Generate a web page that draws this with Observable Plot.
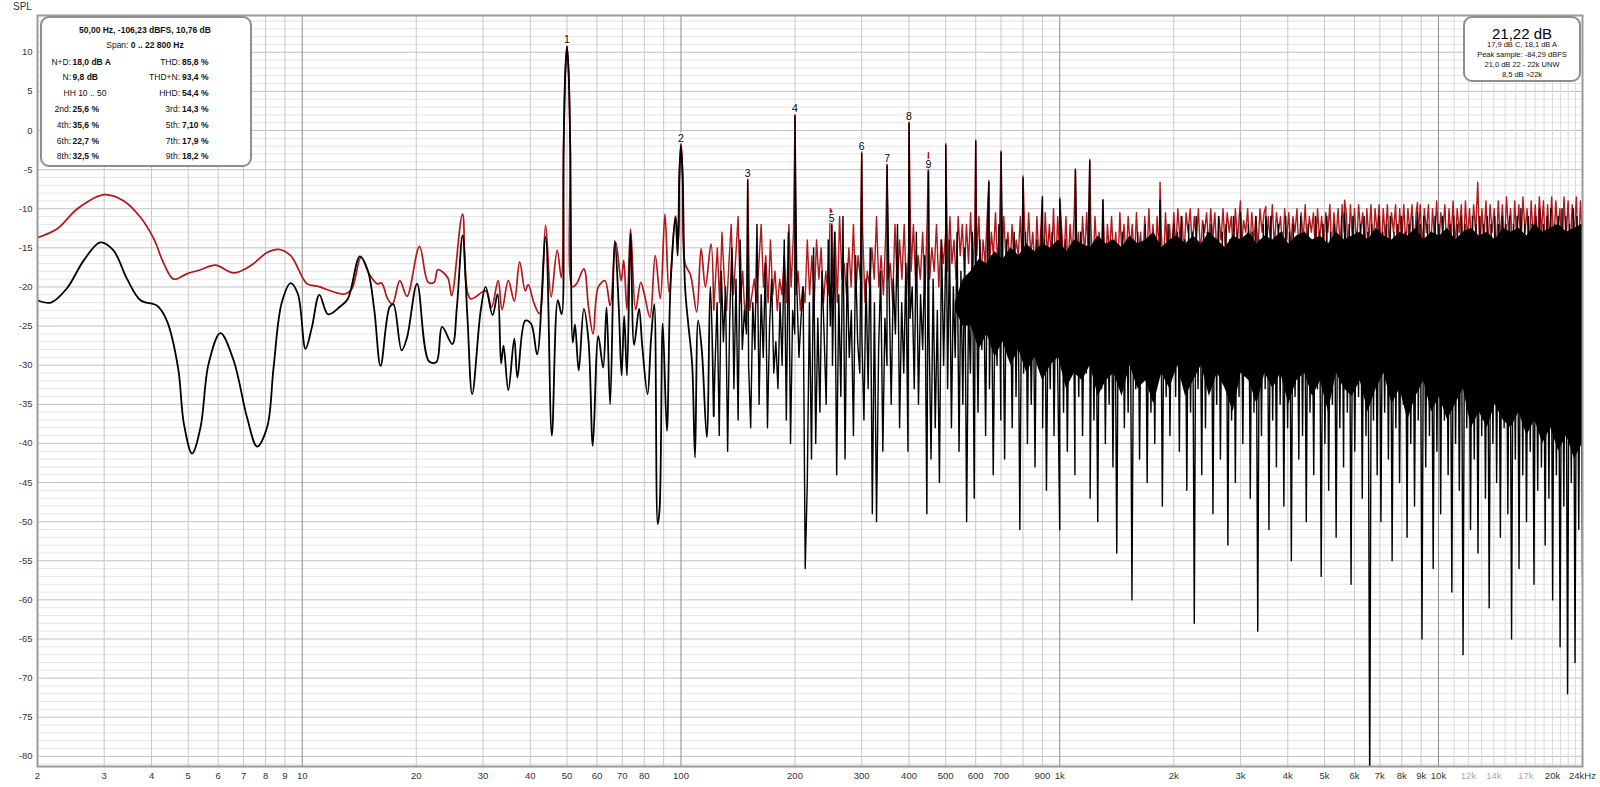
<!DOCTYPE html>
<html><head><meta charset="utf-8">
<script src="https://cdn.jsdelivr.net/npm/d3@7"></script>
<script src="https://cdn.jsdelivr.net/npm/@observablehq/plot@0.6"></script>
<style>
html,body{margin:0;padding:0;background:#fff;}
#wrap{position:relative;width:1600px;height:787px;font-family:"Liberation Sans",Arial,sans-serif;overflow:hidden;}
#wrap svg{position:absolute;left:0;top:0;}
.box{position:absolute;background:#fff;border:2px solid #8e8e8e;border-radius:9px;box-sizing:border-box;}
.t{position:absolute;white-space:nowrap;font-size:8.5px;color:#111;line-height:1;transform:translateY(-50%);}
.r{text-align:right;}
.c{text-align:center;}
</style></head><body><div id="wrap"></div>
<script>
// ---------- DATA ----------
// Low-frequency part (smooth), [Hz, dB]
const blackLow = [[2,-21.7],[2.17,-22.0],[2.39,-20.2],[2.65,-16.6],[2.93,-14.3],[3.17,-15.3],[3.45,-19.0],[3.74,-21.7],[4.14,-22.4],[4.39,-24.3],[4.7,-30.3],[4.87,-37.5],[5.12,-41.3],[5.39,-37.9],[5.66,-29.8],[6.08,-25.9],[6.59,-29.4],[7.15,-36.7],[7.6,-40.4],[8.08,-37.9],[8.4,-30.3],[8.83,-22.0],[9.32,-19.5],[9.74,-20.9],[10.2,-27.9],[10.6,-25.2],[11.1,-21.0],[11.7,-23.5],[12.6,-22.5],[13.2,-21.5],[14.2,-16.1],[14.9,-17.9],[15.5,-23.0],[16.1,-30.1],[17.0,-22.6],[17.4,-22.2],[18.3,-28.1],[18.9,-26.5],[20.1,-19.6],[21.6,-29.5],[22.6,-29.6],[23.4,-25.1],[24.9,-27.3],[25.6,-22.6],[26.5,-13.4],[27.3,-23.9],[28.1,-33.7],[29.6,-23.0],[30.5,-20.0],[31.8,-23.6],[32.8,-20.9],[33.5,-29.8],[34,-27.5],[35,-33.2],[36.3,-26.6],[37,-31.6],[38.8,-24.3],[40.2,-24.7],[41.7,-28.6],[43.9,-13.6],[45.6,-39.0],[47.3,-21.7],[48.4,-23.5],[49.0,-2],[49.5,7.5],[50,10.76],[50.5,7.5],[51.0,-2],[51.8,-27.1],[52.5,-24.8],[53.7,-30.7],[55.4,-22.8],[57,-26.9],[58.5,-40.3],[60.5,-26.3],[62.3,-30.3],[63.6,-22.6],[65,-35.0],[66.9,-14.1],[68.5,-22.6],[69.7,-31.3],[70.8,-23.7],[72,-31.3],[73.6,-13.2],[75.2,-27.4],[77.5,-22.8],[79,-27.5],[81.6,-33.7],[83.3,-26.9],[85,-22.2],[86.8,-50.3],[87.8,-48.4],[89.5,-24.7],[91.8,-38.4],[93.8,-20.0],[96.7,-11.1],[98,-16],[99,-6],[100,-1.9],[101,-6],[102.5,-20],[104.5,-24.7],[107,-29.8],[108.9,-41.8],[111,-24.3],[113.5,-28.1],[117,-39.2],[119.5,-20.0],[122,-36.5]];
const redLow = [[2,-13.7],[2.25,-12.6],[2.55,-10.0],[3.0,-8.2],[3.38,-9.0],[3.74,-11.1],[4.06,-13.9],[4.31,-17.0],[4.58,-19.0],[4.97,-18.3],[5.39,-17.8],[5.9,-17.2],[6.59,-18.2],[7.3,-17.3],[8.08,-15.6],[8.67,-15.2],[9.32,-16.0],[10.3,-19.6],[10.96,-19.9],[12.9,-20.9],[13.5,-20.3],[14.3,-16.2],[15.0,-18.3],[15.8,-19.6],[16.2,-19.5],[16.8,-21.5],[17.3,-22.2],[18.1,-19.2],[18.9,-21.2],[20.4,-14.8],[21.5,-19.4],[22.3,-19.4],[22.8,-17.8],[24.2,-18.8],[24.8,-21.1],[26.5,-10.7],[27.8,-21.5],[30.5,-20.5],[31.6,-22.6],[32.9,-19.2],[33.7,-22.9],[35.0,-19.2],[36.3,-21.8],[37.5,-16.8],[38.8,-20.5],[39.5,-19.7],[41,-22.2],[42.3,-23.4],[43.9,-12.1],[45.4,-21.3],[47.1,-15.3],[48.3,-18.8],[49.0,-2],[49.5,7.5],[50,10.76],[50.5,7.5],[51.0,-2],[51.7,-20.0],[53,-19.6],[55.4,-17.7],[57,-22.6],[58.6,-26.0],[60.5,-20.0],[63,-19.2],[65,-22.4],[67.3,-14.3],[69.5,-19.2],[70.6,-16.6],[72,-22.9],[73.6,-12.6],[75.9,-22.9],[78.3,-19.4],[80,-20.9],[82.8,-23.9],[85.5,-16.0],[88.2,-21.5],[90.7,-10.7],[93,-20.7],[96.7,-10.9],[98.5,-14],[99,-5.5],[100,-1.5],[101,-5.5],[102.5,-17],[106,-18.5],[110,-23.2],[113,-15.1],[116,-20.0],[120,-14.5],[122,-22.9]];

// Dense FFT part, values read left to right in three frequency bands
const bandA_Hz = [123, 500];
const blackBandA = [-30,-22,-39,-18,-27,-20,-41,-24,-15,-33,-19,-37,-14,-28,-23,-26,-30,-38,-22,-28,-12,-35,-21,-29,-17,-38,-25,-19,-31,-27,-33,-22,-30,-14,-37,-13,-40,-23,-26,-20,-29,-24,-20,-56,-45,-22,-42,-15,-40,-24,-36,-18,-26,-35,-14,-25,-30,-13,-44,-21,-34,-11,-42,-17,-29,-23,-39,-16,-27,-31,-26,-37,-19,-33,-15,-49,-22,-50,-28,-18,-41,-24,-30,-20,-35,-19,-26,-12,-38,-22,-31,-17,-41,-24,-20,-33,-13,-35,-21,-28,-16,-49,-25,-42,-19,-38,-23,-45,-14,-30];
const redBandA = [-20,-15,-22,-13,-19,-23,-17,-12,-21,-16,-11,-22,-18,-24,-20,-23,-21,-19,-22,-17,-12,-20,-16,-22,-14,-21,-18,-23,-19,-21,-16,-22,-12,-20,-13,-21,-18,-23,-20,-22,-14,-21,-16,-22,-14,-19,-15,-22,-18,-21,-10,-20,-13,-22,-11,-19,-17,-21,-15,-20,-12,-21,-16,-19,-13,-22,-18,-20,-15,-19,-11,-20,-16,-21,-13,-19,-17,-22,-12,-20,-14,-19,-12,-21,-15,-18,-12,-20,-16,-19,-13,-21,-11,-19,-15,-18,-12,-20,-14,-17];
const bandB_Hz = [500, 2000];
const blackBandB = [-16,-33,-14,-38,-20,-29,-13,-41,-18,-35,-15,-50,-22,-31,-13,-47,-17,-36,-14,-28,-19,-39,-13,-33,-16,-44,-21,-30,-12,-37,-17,-42,-14,-29,-20,-38,-13,-34,-16,-51,-18,-31,-13,-40,-15,-35,-19,-43,-14,-30,-16,-38,-14,-46,-20,-33,-13,-39,-17,-32,-51,-15,-36,-14,-41,-18,-30,-15,-44,-16,-34,-13,-39,-19,-31,-14,-47,-15,-37,-17,-50,-14,-33,-13,-40,-18,-35,-14,-43,-16,-54,-15,-32,-13,-38,-19,-36,-14,-60,-17,-33,-13,-42,-16,-30,-12,-45,-18,-36,-14,-40,-15,-31,-13,-48,-17,-34,-12,-39,-16];
const redBandB = [-13,-18,-11,-17,-14,-19,-11,-16,-12,-18,-12,-17,-10.5,-18,-13,-16,-11,-19,-14,-17,-11,-18,-13,-16,-10.5,-17,-12,-19,-11,-16,-13,-18,-12,-17,-14,-16,-11,-18,-12,-17,-10.5,-16,-13,-18,-11,-17,-12,-19,-10.5,-16,-12,-17,-10,-18,-11,-16,-13,-17,-11,-18,-12,-16,-10.5,-17,-13,-18,-11,-16,-10.5,-17,-12,-18,-11,-16,-13,-17,-10.5,-19,-12,-16,-11,-17,-13,-18,-10.5,-16,-12,-17,-11,-15,-12,-17,-10.5,-16,-13,-18,-11,-17,-10,-16,-12,-17,-11,-16,-13,-18,-10.5,-16,-12,-17];
const bandC_Hz = [2000, 24000];
const blackBandC = [-12,-34,-13,-41,-11,-30,-14,-46,-12,-36,-13,-63,-11,-33,-15,-44,-12,-38,-13,-31,-12,-49,-14,-35,-11,-42,-13,-32,-12,-53,-14,-37,-11,-45,-13,-34,-12,-40,-15,-30,-12,-47,-13,-36,-11,-64,-14,-39,-12,-33,-13,-51,-11,-37,-14,-43,-12,-35,-13,-48,-11,-38,-13,-55,-12,-34,-14,-42,-11,-39,-13,-50,-12,-36,-14,-44,-11,-33,-13,-57,-12,-40,-11,-46,-13,-35,-12,-52,-14,-38,-11,-43,-13,-36,-12,-58,-11,-41,-13,-34,-12,-47,-11,-39,-13,-85,-12,-37,-14,-44,-11,-50,-13,-36,-12,-42,-11,-55,-13,-38,-12,-45,-11,-35,-13,-52,-12,-40,-11,-48,-13,-37,-12,-65,-11,-43,-12,-39,-13,-56,-11,-41,-12,-49,-11,-37,-13,-44,-12,-59,-11,-40,-12,-46,-11,-67,-12,-38,-13,-51,-11,-42,-12,-54,-11,-39,-12,-47,-11,-61,-12,-40,-11,-45,-12,-52,-11,-38,-12,-49,-11,-65,-12,-42,-11,-56,-10,-44,-12,-50,-11,-41,-12,-58,-11,-46,-10,-43,-12,-53,-11,-47,-10,-60,-12,-44,-11,-66,-10,-48,-11,-72,-12,-45,-10,-68,-11,-51,-12,-57];
const redBandC = [-10.5,-15,-10,-14,-11,-16,-10.5,-13,-10,-15,-11,-14,-10,-16,-11.5,-13,-10.5,-15,-10,-14,-10.5,-16,-11,-14,-10,-15,-10.5,-13,-11,-16,-10,-14,-10.5,-15,-11.5,-13,-10,-16,-10.5,-14,-11,-15,-10,-13,-10.5,-16,-11,-14,-9.5,-15,-10.5,-13,-11,-16,-10,-14,-10.5,-15,-11,-13,-10,-16,-10.5,-14,-9.5,-15,-11,-13,-10.5,-16,-10,-14,-11,-15,-10.5,-13,-9.5,-16,-10.5,-14,-10,-15,-9.5,-13,-10.5,-16,-9.5,-14,-10,-15,-9.5,-13,-10.5,-16,-10,-14,-9.5,-15,-10,-13,-9.5,-16,-10,-14,-9.5,-15,-10.5,-13,-9.5,-16,-10,-14,-9.5,-15,-10,-13,-9.5,-16,-10.5,-14,-9.5,-15,-10,-13,-9.5,-16,-10,-14,-9,-15,-10.5,-13,-9.5,-16,-10,-14,-9,-15,-10,-13,-9.5,-16,-9,-14,-10,-15,-9.5,-13,-6.6,-16,-10,-14,-9,-15,-9.5,-13,-10,-16,-9,-14,-9.5,-15,-8.5,-13,-10,-16,-9,-14,-9.5,-15,-8.5,-13,-10,-16,-9,-14,-9.5,-15,-8.5,-13,-9,-16,-9.5,-14,-8.5,-15,-9,-13,-10,-16,-8.5,-14,-9,-15,-9.5,-13,-8.5,-16,-9,-14];

// Solid core of the black noise mass (trace too dense to separate), 530 Hz .. 24 kHz
const coreBand_Hz = [530, 24000];
const coreTopDb = [-22,-19,-18,-16.5,-17,-15.5,-16.5,-15,-16,-14.5,-15.5,-14.5,-15,-14,-15.5,-14,-14.5,-15,-13.5,-14.5,-14,-15,-13.5,-14.5,-14,-13,-15,-14,-13.5,-14.5,-13.5,-14.5,-13,-14,-15,-13.5,-14,-13,-14.5,-13.5,-14,-13,-14.5,-13.5,-13,-14,-13.5,-14.5,-13,-14,-13.5,-13,-14,-12.5,-13.5,-14,-13,-13.5,-12.5,-14,-13,-13.5,-12.5,-14,-13,-12.5,-13.5,-13,-14,-12.5,-13,-12.5,-13.5,-12,-13,-12.5,-12,-13,-12.5,-12];
const coreBotDb = [-23,-25,-25,-28,-26,-29,-27,-30,-28,-31,-29,-32,-30,-29,-33,-31,-32,-30,-34,-32,-31,-34,-30,-33,-32,-35,-31,-33,-30,-34,-32,-30,-34,-31,-33,-36,-31,-32,-35,-31,-33,-31,-35,-32,-31,-34,-32,-36,-31,-33,-34,-32,-36,-33,-31,-35,-33,-37,-34,-32,-36,-34,-37,-35,-33,-38,-36,-38,-35,-37,-38,-36,-39,-37,-40,-38,-41,-39,-42,-40];

// Harmonic / tonal peaks
const peakHz      = [150,200,250,300,350,400,450,500,600,650,700,800,900,1000,1100,1200,1300,1840,3000,3500,5650,8800];
const peakBlackDb = [-6.4,1.9,-12.1,-3.0,-4.5,0.9,-5.3,-1.9,-1.4,-6.6,-2.8,-6.1,-8.6,-8.8,-5.1,-3.9,-8.9,-8.9,-10.5,-11,-10.5,-10.5];
const peakRedDb   = [-6.2,2.0,-10.3,-2.7,-4.3,1.1,-2.8,-1.7,-1.2,-6.4,-2.6,-5.8,-8.4,-8.6,-4.9,-3.7,-8.8,-6.6,-9.0,-9.7,-8.9,-9.2];

// Harmonic number labels
const harmLabelHz = [50,100,150,200,250,300,350,400,450];
const harmLabelDb = [10.76,-1.9,-6.4,1.9,-12.1,-3.0,-4.5,0.9,-5.3];
const harmLabelText = ["1","2","3","4","5","6","7","8","9"];

// Axes
const yTicks = [10,5,0,-5,-10,-15,-20,-25,-30,-35,-40,-45,-50,-55,-60,-65,-70,-75,-80];
const xTickHz = [2,3,4,5,6,7,8,9,10,20,30,40,50,60,70,80,100,200,300,400,500,600,700,900,1000,2000,3000,4000,5000,6000,7000,8000,9000,10000,20000,24000];
const xTickText = ["2","3","4","5","6","7","8","9","10","20","30","40","50","60","70","80","100","200","300","400","500","600","700","900","1k","2k","3k","4k","5k","6k","7k","8k","9k","10k","20k","24kHz"];
const xFaintHz = [12000,14000,17000];
const xFaintText = ["12k","14k","17k"];

// Info boxes text
const infoHeader = "50,00 Hz, -106,23 dBFS, 10,76 dB";
const infoSpan = ["Span: ", "0 .. 22 800 Hz"];
const infoLeftLabels  = ["N+D:","N:","HH 10 .. 50","2nd:","4th:","6th:","8th:"];
const infoLeftValues  = ["18,0 dB A","9,8 dB","","25,6 %","35,6 %","22,7 %","32,5 %"];
const infoRightLabels = ["THD:","THD+N:","HHD:","3rd:","5th:","7th:","9th:"];
const infoRightValues = ["85,8 %","93,4 %","54,4 %","14,3 %","7,10 %","17,9 %","18,2 %"];
const levelMain = "21,22 dB";
const levelLines = ["17,9 dB C, 18,1 dB A","Peak sample: -84,29 dBFS","21,0 dB 22 - 22k UNW","8,5 dB >22k"];

// ---------- BUILD ----------
function band(range, vals, inclusive) {
  const [f0, f1] = range, d = inclusive ? vals.length - 1 : vals.length;
  return vals.map((db, i) => ({f: f0 * Math.pow(f1 / f0, i / d), db}));
}
const pairs = a => a.map(([f, db]) => ({f, db}));
const blackLowData = pairs(blackLow);
const redLowData = pairs(redLow);
const blackDense = [blackLowData[blackLowData.length - 1], ...band(bandA_Hz, blackBandA), ...band(bandB_Hz, blackBandB), ...band(bandC_Hz, blackBandC, true),
  ...peakHz.map((f, i) => ({f, db: peakBlackDb[i]}))].sort((a, b) => a.f - b.f);
const redDense = [redLowData[redLowData.length - 1], ...band(bandA_Hz, redBandA), ...band(bandB_Hz, redBandB), ...band(bandC_Hz, redBandC, true),
  ...peakHz.map((f, i) => ({f, db: peakRedDb[i]}))].sort((a, b) => a.f - b.f);
const coreTop = band(coreBand_Hz, coreTopDb, true);
const coreBot = band(coreBand_Hz, coreBotDb, true);
const core = coreTop.map((d, i) => ({f: d.f, top: d.db, bot: coreBot[i].db}));

const yMinor = d3.range(-81, 15).filter(v => v % 5 !== 0);
const xGridMinor = [];
for (const dec of [1, 10, 100, 1000]) for (let m = 2; m <= 9; m++) if (dec * m > 2) xGridMinor.push(dec * m);
const xGridHigh = d3.range(11000, 24001, 1000);
const xGridMajor = [10, 100, 1000, 10000];

const RED = "#b3161b";
const chart = Plot.plot({
  width: 1600, height: 787,
  marginTop: 15, marginBottom: 21, marginLeft: 37, marginRight: 18,
  style: {fontFamily: "'Liberation Sans', Arial, sans-serif", fontSize: "9.5px", color: "#222", background: "transparent"},
  x: {type: "log", domain: [2, 24000], axis: null},
  y: {domain: [-81.3, 14.7], axis: null},
  marks: [
    Plot.ruleY(yMinor, {stroke: "#e4e4e4", strokeWidth: 1}),
    Plot.ruleY(yTicks, {stroke: "#c2c2c2", strokeWidth: 1}),
    Plot.ruleX(xGridHigh, {stroke: "#dadada", strokeWidth: 1}),
    Plot.ruleX(xGridMinor, {stroke: "#c8c8c8", strokeWidth: 1}),
    Plot.ruleX(xGridMajor, {stroke: "#8c8c8c", strokeWidth: 1}),
    Plot.line(redLowData, {x: "f", y: "db", stroke: RED, strokeWidth: 1.7, curve: "catmull-rom", clip: true}),
    Plot.line(redDense, {x: "f", y: "db", stroke: RED, strokeWidth: 1.4, clip: true}),
    Plot.areaY(core, {x: "f", y1: "bot", y2: "top", fill: "#000", clip: true}),
    Plot.line(blackLowData, {x: "f", y: "db", stroke: "#000", strokeWidth: 1.8, curve: "catmull-rom", clip: true}),
    Plot.line(blackDense, {x: "f", y: "db", stroke: "#000", strokeWidth: 1.4, clip: true}),
    Plot.text(harmLabelHz, {x: d => d, y: (d, i) => harmLabelDb[i], text: (d, i) => harmLabelText[i], dy: -7, lineAnchor: "middle", fontSize: 10.5, fill: "#000", stroke: "#fff", strokeWidth: 2.5}),
    Plot.frame({stroke: "#9a9a9a", strokeWidth: 2}),
    Plot.text(yTicks, {y: d => d, text: d => String(d), frameAnchor: "left", textAnchor: "end", dx: -5, fill: "#333"}),
    Plot.text(xTickHz, {x: d => d, text: (d, i) => xTickText[i], frameAnchor: "bottom", lineAnchor: "top", dy: 6, fill: "#333"}),
    Plot.text(xFaintHz, {x: d => d, text: (d, i) => xFaintText[i], frameAnchor: "bottom", lineAnchor: "top", dy: 6, fill: "#aaa"})
  ]
});
const wrap = document.getElementById("wrap");
wrap.appendChild(chart);

function addText(html, left, top, cls, extra) {
  const el = document.createElement("div");
  el.className = "t " + (cls || "");
  el.innerHTML = html;
  el.style.left = left + "px"; el.style.top = top + "px";
  if (extra) Object.assign(el.style, extra);
  wrap.appendChild(el);
  return el;
}
// SPL label
addText("SPL", 13, 7, "", {fontSize: "10px", color: "#333"});

// Info box (top-left)
const b1 = document.createElement("div"); b1.className = "box";
Object.assign(b1.style, {left: "40px", top: "16px", width: "212px", height: "151px"});
wrap.appendChild(b1);
addText("<b>" + infoHeader + "</b>", 45, 29.5, "c", {width: "200px"});
addText(infoSpan[0] + "<b>" + infoSpan[1] + "</b>", 45, 45, "c", {width: "200px"});
infoLeftLabels.forEach((lab, i) => {
  const y = 61.5 + i * 15.8;
  if (infoLeftValues[i] === "") {
    addText(lab, 45, y, "c", {width: "80px"});
  } else {
    addText(lab, 0, y, "r", {width: "71px"});
    addText("<b>" + infoLeftValues[i] + "</b>", 72.5, y);
  }
  addText(infoRightLabels[i], 0, y, "r", {width: "180px"});
  addText("<b>" + infoRightValues[i] + "</b>", 182, y);
});

// Level box (top-right)
const b2 = document.createElement("div"); b2.className = "box";
Object.assign(b2.style, {left: "1463px", top: "16px", width: "118px", height: "66px"});
wrap.appendChild(b2);
addText(levelMain, 1463, 32.5, "c", {width: "118px", fontSize: "15px", color: "#000"});
levelLines.forEach((s, i) => addText(s, 1463, 44.5 + i * 10.2, "c", {width: "118px", fontSize: "7.5px", color: "#111"}));
</script></body></html>
